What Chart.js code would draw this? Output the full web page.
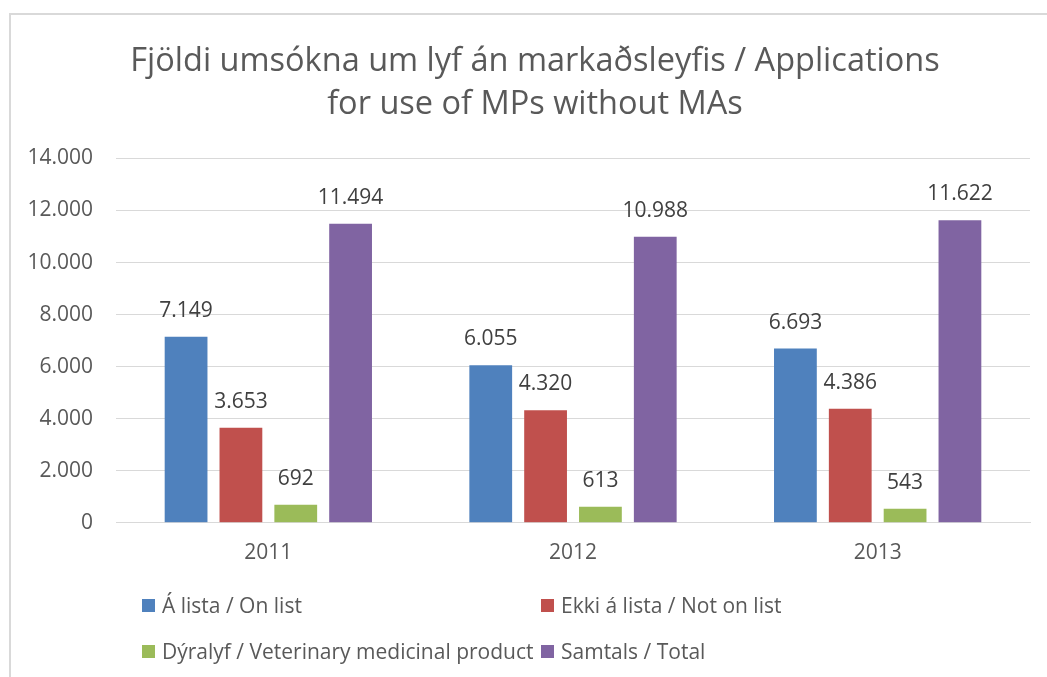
<!DOCTYPE html>
<html>
<head>
<meta charset="utf-8">
<script src="https://cdn.jsdelivr.net/npm/chart.js@4/dist/chart.umd.min.js"></script>
<style>
 html, body { margin: 0; padding: 0; background: #fff; overflow: hidden; }
 body { width: 1047px; height: 677px; position: relative; font-family: "Open Sans", sans-serif; }
 #frame { position: absolute; left: 9px; top: 13px; width: 1100px; height: 700px;
  border-left: 2px solid #d9d9d9; border-top: 2px solid #d9d9d9; box-sizing: border-box; }
 #wrap { position: absolute; left: 9px; top: 13px; width: 1053px; height: 664px; }
 #legend { position: absolute; left: 142px; top: 590px; width: 820px;
  display: grid; grid-template-columns: 399px auto; row-gap: 16px; }
 .item { display: flex; align-items: center; font-size: 21px; color: #595959; height: 30px; white-space: nowrap; }
 .box { width: 13px; height: 13px; margin-right: 7px; flex: none; }
</style>
</head>
<body>
<div id="frame"></div>
<div id="wrap"><canvas id="chart"></canvas></div>
<div id="legend"></div>
<script>
// data
const years = ["2011", "2012", "2013"];
const onList = [7149, 6055, 6693];
const notOnList = [3653, 4320, 4386];
const veterinary = [692, 613, 543];
const total = [11494, 10988, 11622];
const seriesNames = [
 "Á lista / On list",
 "Ekki á lista / Not on list",
 "Dýralyf / Veterinary medicinal product",
 "Samtals / Total",
];
const yTicks = [0, 2000, 4000, 6000, 8000, 10000, 12000, 14000];

const colors = ["#4f81bd", "#c0504d", "#9bbb59", "#8064a2"];
const textColor = "#595959";

// Icelandic style thousands separator
const fmt = (v) => String(v).replace(/\B(?=(\d{3})+(?!\d))/g, ".");

Chart.defaults.font.family = "'Open Sans', sans-serif";
Chart.defaults.color = textColor;

const valueLabels = {
 id: "valueLabels",
 afterDatasetsDraw(chart) {
  const { ctx } = chart;
  ctx.save();
  ctx.font = "21px 'Open Sans', sans-serif";
  ctx.fillStyle = "#404040";
  ctx.textAlign = "center";
  ctx.textBaseline = "middle";
  chart.data.datasets.forEach((ds, i) => {
   chart.getDatasetMeta(i).data.forEach((bar, j) => {
    ctx.fillText(fmt(ds.data[j]), bar.x, bar.y - 26);
   });
  });
  ctx.restore();
 },
};

// title in the original is centred on the whole frame, not on the padded area
const shiftTitle = {
 id: "shiftTitle",
 afterLayout(chart) {
  if (chart.titleBlock) {
   chart.titleBlock.left += 7;
   chart.titleBlock.right += 7;
  }
 },
};

const ctx = document.getElementById("chart").getContext("2d");
const series = [onList, notOnList, veterinary, total];

new Chart(ctx, {
 type: "bar",
 plugins: [valueLabels, shiftTitle],
 data: {
  labels: years,
  datasets: series.map((values, i) => ({
   label: seriesNames[i],
   data: values,
   backgroundColor: colors[i],
   categoryPercentage: 0.72,
   barPercentage: 0.78,
  })),
 },
 options: {
  responsive: true,
  maintainAspectRatio: false,
  animation: false,
  layout: { padding: { left: 17, right: 32, top: 0, bottom: 93 } },
  scales: {
   x: {
    grid: { display: false, drawTicks: false },
    border: { display: true, color: "#d9d9d9", width: 1 },
    ticks: { padding: 18, font: { size: 21 }, color: textColor },
   },
   y: {
    min: 0,
    max: 14000,
    afterBuildTicks: (scale) => {
     scale.ticks = yTicks.map((v) => ({ value: v }));
    },
    afterFit: (scale) => {
     scale.width = 90;
    },
    grid: { color: "#d9d9d9", drawTicks: false },
    border: { display: false },
    ticks: {
     padding: 23,
     font: { size: 21 },
     color: textColor,
     callback: (v) => fmt(v),
    },
   },
  },
  plugins: {
   legend: { display: false },
   tooltip: { enabled: false },
   title: {
    display: true,
    text: ["Fjöldi umsókna um lyf án markaðsleyfis / Applications", "for use of MPs without MAs"],
    color: textColor,
    font: { size: 32.5, weight: "normal", lineHeight: 1.33 },
    padding: { top: 27, bottom: 32 },
   },
  },
 },
});

// html legend, two columns like the original
const legend = document.getElementById("legend");
seriesNames.forEach((name, i) => {
 const item = document.createElement("div");
 item.className = "item";
 const box = document.createElement("span");
 box.className = "box";
 box.style.background = colors[i];
 item.appendChild(box);
 item.appendChild(document.createTextNode(name));
 legend.appendChild(item);
});
</script>
</body>
</html>
